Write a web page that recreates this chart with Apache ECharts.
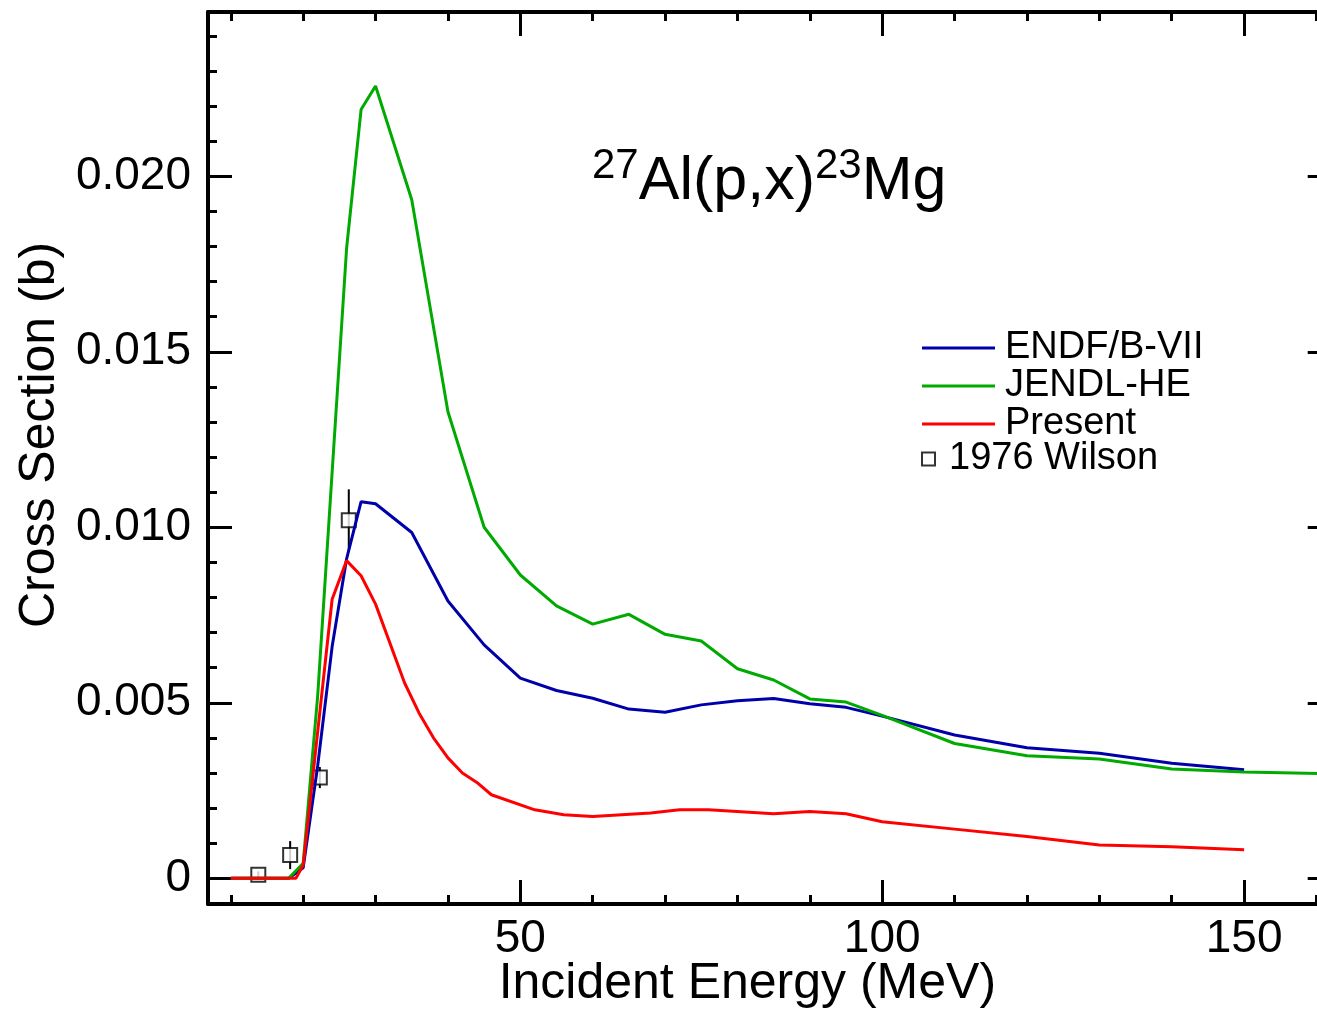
<!DOCTYPE html>
<html>
<head>
<meta charset="utf-8">
<script src="https://cdn.jsdelivr.net/npm/echarts@6/dist/echarts.min.js"></script>
<style>
html,body{margin:0;padding:0;overflow:hidden;background:#fff;}
#chart{width:1340px;height:1012px;}
</style>
</head>
<body>
<div id="chart"></div>
<script>
// ---- data ----
const endfE = [10, 18, 20, 22, 24, 26, 28, 30, 35, 40, 45, 50, 55, 60, 65, 70, 75, 80, 85, 90, 95, 100, 110, 120, 130, 140, 150];
const endfV = [0, 0, 0.0003, 0.0032, 0.0066, 0.0091, 0.01073, 0.01067, 0.00985, 0.0079, 0.00665, 0.0057, 0.00535, 0.00513, 0.00482, 0.00473, 0.00494, 0.00506, 0.00512, 0.00497, 0.00487, 0.00462, 0.00408, 0.00372, 0.00356, 0.00328, 0.00309];

const jendlE = [10, 18, 20, 22, 26, 28, 30, 35, 40, 45, 50, 55, 60, 65, 70, 75, 80, 85, 90, 95, 100, 110, 120, 130, 140, 150, 162];
const jendlV = [0, 0, 0.00043, 0.00519, 0.01795, 0.0219, 0.02257, 0.01933, 0.01329, 0.0100, 0.00864, 0.00776, 0.00724, 0.00752, 0.00695, 0.00676, 0.00597, 0.00565, 0.00511, 0.00502, 0.00464, 0.00384, 0.00349, 0.0034, 0.00311, 0.00303, 0.00298];

const presentE = [10, 19, 20, 24, 26, 28, 30, 34, 36, 38, 40, 42, 44, 46, 52, 56, 60, 68, 72, 76, 85, 90, 95, 100, 110, 120, 130, 140, 150];
const presentV = [0, 0, 0.00038, 0.00795, 0.00905, 0.00862, 0.00781, 0.00557, 0.00471, 0.0040, 0.00343, 0.0030, 0.00273, 0.00238, 0.00195, 0.00181, 0.00176, 0.00186, 0.00195, 0.00195, 0.00184, 0.0019, 0.00184, 0.00161, 0.0014, 0.00119, 0.00095, 0.0009, 0.00081];

const wilsonE = [13.8, 18.2, 22.3, 26.3];
const wilsonV = [0.0001, 0.00066, 0.00287, 0.0102];
const wilsonErr = [0.0001, 0.0004, 0.0003, 0.00088];

const xMajorTicks = [50, 100, 150];
const xMinorTicks = [10, 20, 30, 40, 50, 60, 70, 80, 90, 100, 110, 120, 130, 140, 150, 160];
const yMajorTicks = [0, 0.005, 0.010, 0.015, 0.020];
const yMinorTicks = [0, 0.001, 0.002, 0.003, 0.004, 0.005, 0.006, 0.007, 0.008, 0.009, 0.010, 0.011, 0.012, 0.013, 0.014, 0.015, 0.016, 0.017, 0.018, 0.019, 0.020, 0.021, 0.022, 0.023, 0.024];

const X_MIN = 6.85, X_MAX = 162.1;
const Y_MIN = -0.000733, Y_MAX = 0.02468;

const FONT = "'Liberation Sans', Arial, Helvetica, sans-serif";

function zip(a, b) { return a.map((v, i) => [v, b[i]]); }

function xAx(pos, major, showLine, showLabel) {
  return {
    type: 'value', position: pos, min: X_MIN, max: X_MAX,
    axisLine: { show: showLine, onZero: false, lineStyle: { color: '#000', width: 4 } },
    axisTick: { show: true, inside: true, customValues: major ? xMajorTicks : xMinorTicks, length: major ? 24 : 9, lineStyle: { color: '#000', width: 3 } },
    axisLabel: showLabel ? { show: true, customValues: xMajorTicks, fontSize: 46, fontFamily: FONT, color: '#000', margin: 12 } : { show: false },
    splitLine: { show: false }
  };
}
function yAx(pos, major, showLine, showLabel) {
  return {
    type: 'value', position: pos, min: Y_MIN, max: Y_MAX,
    axisLine: { show: showLine, onZero: false, lineStyle: { color: '#000', width: 4 } },
    axisTick: { show: true, inside: true, customValues: major ? yMajorTicks : yMinorTicks, length: major ? 24 : 9, lineStyle: { color: '#000', width: 3 } },
    axisLabel: showLabel ? { show: true, customValues: yMajorTicks, fontSize: 46, fontFamily: FONT, color: '#000', margin: 17,
      formatter: v => (Math.abs(v) < 1e-12 ? '0' : v.toFixed(3)) } : { show: false },
    splitLine: { show: false }
  };
}

const xAxes = [xAx('bottom', true, true, true), xAx('bottom', false, false, false), xAx('top', true, true, false), xAx('top', false, false, false)];
xAxes[0].name = 'Incident Energy (MeV)';
xAxes[0].nameLocation = 'middle';
xAxes[0].nameGap = 55;
xAxes[0].nameMoveOverlap = false;
xAxes[0].nameTextStyle = { fontSize: 50, fontFamily: FONT, color: '#000', padding: [0, 45, 0, 0] };

const yAxes = [yAx('left', true, true, true), yAx('left', false, false, false), yAx('right', true, true, false), yAx('right', false, false, false)];
yAxes[0].name = 'Cross Section (b)';
yAxes[0].nameLocation = 'middle';
yAxes[0].nameGap = 142;
yAxes[0].nameRotate = 90;
yAxes[0].nameTextStyle = { fontSize: 50, fontFamily: FONT, color: '#000', padding: [0, 0, 0, 46] };

const chart = echarts.init(document.getElementById('chart'), null, { renderer: 'canvas' });
chart.setOption({
  animation: false,
  backgroundColor: '#fff',
  grid: { left: 208, top: 12, width: 1123.7, height: 892, containLabel: false, outerBoundsMode: 'none' },
  xAxis: xAxes,
  yAxis: yAxes,
  legend: [
    { data: [{ name: 'ENDF/B-VII', icon: 'rect' }, { name: 'JENDL-HE', icon: 'rect' }, { name: 'Present', icon: 'rect' }],
      orient: 'vertical', left: 922, top: 329, itemWidth: 73, itemHeight: 3, itemGap: 0, padding: 0,
      textStyle: { fontSize: 38, fontFamily: FONT, color: '#000', lineHeight: 37, padding: [0, 0, 0, 5] } },
    { data: ['1976 Wilson'], orient: 'vertical', left: 921, top: 440, itemWidth: 13, itemHeight: 13, padding: 0,
      textStyle: { fontSize: 38, fontFamily: FONT, color: '#000', lineHeight: 37, padding: [0, 0, 0, 9] } }
  ],
  graphic: [{
    type: 'text', left: 592, top: 145, z: 100,
    style: {
      text: '{s|27}{m|Al(p,x)}{s|23}{m|Mg}',
      rich: {
        s: { fontSize: 42, fontFamily: FONT, fill: '#000', verticalAlign: 'top', lineHeight: 68, padding: [0, 0, 24, 0] },
        m: { fontSize: 61, fontFamily: FONT, fill: '#000', verticalAlign: 'bottom', lineHeight: 68 }
      }
    }
  }],
  series: [
    { name: '1976 Wilson Err', type: 'custom', xAxisIndex: 0, yAxisIndex: 0, z: 1, silent: true,
      data: wilsonE.map((e, i) => [e, wilsonV[i], wilsonErr[i]]),
      renderItem: function (params, api) {
        const e = api.value(0), v = api.value(1), d = api.value(2);
        const p1 = api.coord([e, v + d]);
        const p2 = api.coord([e, v - d]);
        return { type: 'line', shape: { x1: p1[0], y1: p1[1], x2: p2[0], y2: p2[1] }, style: { stroke: '#000', lineWidth: 2 } };
      }
    },
    { name: '1976 Wilson', type: 'scatter', xAxisIndex: 0, yAxisIndex: 0, z: 2,
      data: zip(wilsonE, wilsonV), symbol: 'rect', symbolSize: 14,
      itemStyle: { color: '#fff', borderColor: '#000', borderWidth: 2 } },
    { name: 'ENDF/B-VII', type: 'line', xAxisIndex: 0, yAxisIndex: 0, z: 3, showSymbol: false, symbol: 'none',
      data: zip(endfE, endfV), lineStyle: { color: '#0000aa', width: 3 }, itemStyle: { color: '#0000aa' } },
    { name: 'JENDL-HE', type: 'line', xAxisIndex: 0, yAxisIndex: 0, z: 4, showSymbol: false, symbol: 'none',
      data: zip(jendlE, jendlV), lineStyle: { color: '#00aa00', width: 3 }, itemStyle: { color: '#00aa00' } },
    { name: 'Present', type: 'line', xAxisIndex: 0, yAxisIndex: 0, z: 5, showSymbol: false, symbol: 'none',
      data: zip(presentE, presentV), lineStyle: { color: '#ff0000', width: 3 }, itemStyle: { color: '#ff0000' } }
  ]
});
</script>
</body>
</html>
